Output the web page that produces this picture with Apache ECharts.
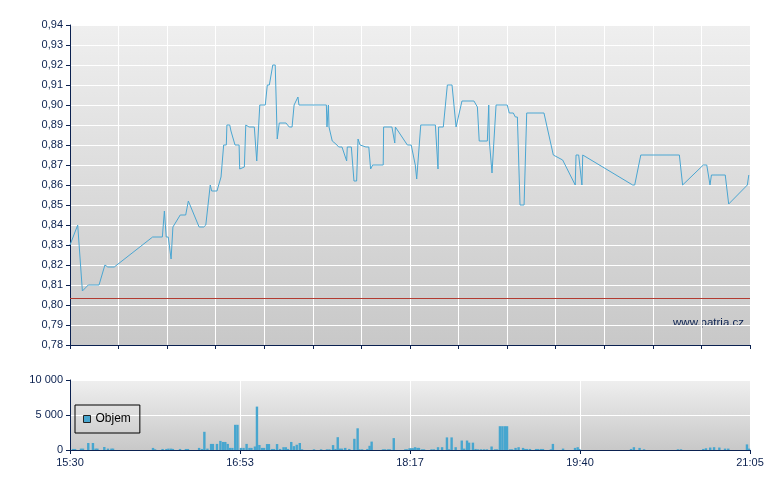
<!DOCTYPE html>
<html>
<head>
<meta charset="utf-8">
<script src="https://cdn.jsdelivr.net/npm/echarts@6/dist/echarts.min.js"></script>
<style>
html, body { margin: 0; padding: 0; background: #fff; }
#chart { width: 780px; height: 490px; }
</style>
</head>
<body>
<div id="chart"></div>
<script>
// minutes after 15:30
var priceMin = [0, 3.8, 6.1, 7.0, 9.0, 14.3, 17.2, 18.6, 21.8, 40.7, 45.5, 46.5, 47.1, 47.4, 48.4, 49.8, 50.7, 51.4, 54.3, 57.0,
  58.3, 63.6, 65.9, 66.9, 69.1, 69.8, 72.4, 74.4, 75.7, 77.0, 77.3, 78.7, 79.3, 80.0, 81.3, 83.3, 83.6, 84.2, 85.9, 86.6,
  87.5, 88.2, 90.8, 91.1, 92.0, 93.5, 96.2, 97.2, 98.2, 98.9, 99.9, 101.1, 102.1, 103.1, 106.4, 108.0, 109.4, 110.4, 112.3, 112.8,
  126.3, 126.6, 127.3, 127.6, 129.2, 131.0, 132.4, 134.0, 136.3, 136.6, 138.6, 139.9, 141.2, 141.9, 142.9, 145.8, 147.2, 148.1, 149.1, 154.3,
  154.5, 158.6, 160.0, 160.3, 166.2, 168.1, 170.1, 170.8, 171.4, 172.8, 180.0, 181.3, 181.6, 183.9, 185.9, 188.2, 190.2, 193.1, 199.0, 200.7,
  201.6, 205.6, 206.3, 206.6, 207.9, 209.9, 215.4, 216.4, 218.4, 219.4, 220.4, 221.7, 223.7, 225.0, 233.5, 238.1, 242.7, 248.9, 249.3, 250.6,
  252.2, 252.6, 277.2, 278.2, 281.2, 300.2, 301.8, 312.0, 313.7, 315.3, 316.0, 322.8, 324.5, 333.7, 334.4];
var priceVal = [0.830, 0.840, 0.807, 0.807, 0.810, 0.810, 0.820, 0.819, 0.819, 0.834, 0.834, 0.847, 0.847, 0.834, 0.834, 0.823, 0.839, 0.839, 0.845, 0.845,
  0.852, 0.839, 0.839, 0.840, 0.860, 0.857, 0.857, 0.864, 0.880, 0.880, 0.890, 0.890, 0.887, 0.887, 0.880, 0.880, 0.868, 0.869, 0.869, 0.890,
  0.890, 0.889, 0.889, 0.890, 0.872, 0.900, 0.900, 0.910, 0.910, 0.909, 0.920, 0.920, 0.883, 0.891, 0.891, 0.889, 0.889, 0.900, 0.904, 0.900,
  0.900, 0.889, 0.900, 0.889, 0.882, 0.8805, 0.879, 0.879, 0.872, 0.879, 0.879, 0.862, 0.862, 0.883, 0.880, 0.879, 0.879, 0.868, 0.870, 0.870,
  0.889, 0.889, 0.881, 0.889, 0.880, 0.880, 0.870, 0.863, 0.863, 0.890, 0.890, 0.868, 0.889, 0.889, 0.910, 0.910, 0.889, 0.902, 0.902, 0.899,
  0.882, 0.882, 0.900, 0.882, 0.866, 0.900, 0.900, 0.896, 0.896, 0.894, 0.894, 0.850, 0.850, 0.896, 0.896, 0.875, 0.8725, 0.860, 0.875, 0.875,
  0.860, 0.875, 0.860, 0.860, 0.875, 0.875, 0.860, 0.870, 0.870, 0.860, 0.865, 0.865, 0.8505, 0.860, 0.865];
var prevClose = 0.8033;

var volMin = [1.5, 2.5, 5.4, 6.4, 9.0, 11.3, 12.6, 13.5, 16.9, 18.7, 20.4, 21.2, 40.9, 41.9, 45.6, 47.5, 48.5, 49.8, 50.7, 54.2,
  57.1, 58.1, 63.6, 65.0, 66.2, 67.7, 69.5, 70.4, 72.4, 74.1, 75.4, 76.5, 77.7, 78.8, 80.0, 81.4, 82.5, 84.2, 85.5, 87.0,
  88.4, 89.4, 91.1, 92.1, 93.3, 94.6, 95.6, 97.1, 98.0, 99.5, 100.5, 102.0, 103.5, 105.2, 106.3, 107.4, 109.0, 110.3, 111.7, 113.2,
  114.3, 120.2, 123.7, 126.6, 127.8, 129.6, 130.8, 131.9, 133.0, 134.0, 135.6, 137.6, 140.1, 141.7, 142.6, 143.9, 146.5, 147.6, 148.6, 154.2,
  155.2, 156.7, 157.6, 159.5, 165.2, 166.0, 167.3, 168.2, 169.0, 170.0, 171.2, 171.9, 173.4, 174.4, 178.1, 179.3, 181.3, 183.3, 185.7, 186.7,
  188.0, 190.0, 193.0, 194.2, 195.6, 196.6, 198.5, 199.8, 201.0, 202.5, 204.0, 205.4, 207.7, 209.4, 210.4, 211.8, 213.0, 214.2, 215.3, 216.8,
  217.8, 219.5, 221.0, 223.2, 224.2, 225.1, 226.6, 229.6, 230.6, 232.0, 233.0, 236.9, 237.9, 242.9, 248.8, 250.1, 250.9, 276.4, 277.8, 280.6,
  282.8, 299.5, 301.0, 312.0, 313.3, 315.4, 317.3, 319.9, 322.7, 324.3, 333.5, 334.5];
var volVal = [150, 150, 200, 200, 1000, 1000, 200, 200, 430, 200, 200, 200, 300, 100, 150, 150, 200, 200, 150, 150,
  150, 150, 300, 150, 2600, 200, 870, 870, 870, 1300, 1150, 1150, 870, 300, 300, 3600, 3600, 300, 300, 870,
  300, 300, 500, 6200, 720, 300, 300, 850, 850, 150, 150, 850, 150, 400, 400, 150, 1150, 550, 750, 1000,
  100, 100, 100, 100, 100, 700, 150, 1830, 200, 200, 300, 150, 1600, 3100, 100, 100, 150, 600, 1200, 100,
  100, 100, 100, 1700, 100, 100, 250, 250, 250, 400, 300, 300, 100, 100, 100, 100, 400, 400, 1800, 100,
  1800, 400, 1350, 200, 1350, 1050, 1050, 150, 100, 100, 100, 100, 500, 100, 100, 3400, 3400, 3400, 3400, 100,
  100, 300, 400, 300, 150, 150, 150, 150, 150, 150, 150, 100, 870, 200, 300, 400, 150, 150, 400, 300,
  100, 100, 100, 150, 250, 350, 400, 350, 200, 200, 800, 200];

var timeLabels = ['15:30', '16:53', '18:17', '19:40', '21:05'];
var sessionLen = 335;

var navy = '#0b2150';
var font = 'Liberation Sans';
var bg = {
  type: 'linear', x: 0, y: 0, x2: 0, y2: 1,
  colorStops: [{ offset: 0, color: '#efefef' }, { offset: 1, color: '#c8c8c8' }]
};

var option = {
  animation: false,
  backgroundColor: '#fff',
  textStyle: { fontFamily: font },
  grid: [
    { left: 70, right: 30, top: 25, height: 320, show: true, borderWidth: 0, backgroundColor: bg },
    { left: 70, right: 30, top: 380, height: 70, show: true, borderWidth: 0, backgroundColor: bg }
  ],
  legend: {
    data: ['Objem'],
    left: 75,
    top: 405,
    orient: 'vertical',
    padding: [8, 9, 8, 8],
    borderColor: '#000',
    borderWidth: 1,
    borderRadius: 0,
    itemWidth: 7,
    itemHeight: 7,
    itemGap: 5,
    icon: 'rect',
    itemStyle: { borderColor: '#222', borderWidth: 1 },
    textStyle: { color: '#000', fontSize: 12, fontFamily: font }
  },
  xAxis: [
    {
      gridIndex: 0, type: 'value', min: 0, max: sessionLen, interval: sessionLen / 14,
      axisLine: { lineStyle: { color: navy, width: 1 } },
      axisTick: { show: true, length: 4, lineStyle: { color: navy } },
      axisLabel: { show: false },
      splitLine: { show: true, lineStyle: { color: '#fff', width: 1 } }
    },
    {
      gridIndex: 1, type: 'value', min: 0, max: sessionLen, interval: sessionLen / 4,
      axisLine: { lineStyle: { color: navy, width: 1 } },
      axisTick: { show: true, length: 4, lineStyle: { color: navy } },
      axisLabel: {
        color: navy, fontSize: 11, fontFamily: font, margin: 7,
        formatter: function (v) { return timeLabels[Math.round(v / (sessionLen / 4))]; }
      },
      splitLine: { show: true, lineStyle: { color: '#fff', width: 1 } }
    }
  ],
  yAxis: [
    {
      gridIndex: 0, type: 'value', min: 0.78, max: 0.94, interval: 0.01,
      axisLine: { show: true, lineStyle: { color: navy, width: 1 } },
      axisTick: { show: true, length: 4, lineStyle: { color: navy } },
      axisLabel: {
        color: navy, fontSize: 11, fontFamily: font, margin: 7,
        formatter: function (v) { return v.toFixed(2).replace('.', ','); }
      },
      splitLine: { show: true, lineStyle: { color: '#fff', width: 1 } }
    },
    {
      gridIndex: 1, type: 'value', min: 0, max: 10000, interval: 5000,
      axisLine: { show: true, lineStyle: { color: navy, width: 1 } },
      axisTick: { show: true, length: 4, lineStyle: { color: navy } },
      axisLabel: {
        color: navy, fontSize: 11, fontFamily: font, margin: 7,
        formatter: function (v) { return String(v).replace(/\B(?=(\d{3})+(?!\d))/g, ' '); }
      },
      splitLine: { show: true, lineStyle: { color: '#fff', width: 1 } }
    }
  ],
  graphic: [{
    type: 'text',
    right: 36,
    top: 317,
    style: { text: 'www.patria.cz', fill: navy, font: '11.5px "Liberation Sans"' }
  }],
  series: [
    {
      name: 'Cena',
      type: 'line',
      xAxisIndex: 0,
      yAxisIndex: 0,
      data: priceMin.map(function (m, i) { return [m, priceVal[i]]; }),
      showSymbol: false,
      lineStyle: { color: '#4aa6d2', width: 1 },
      itemStyle: { color: '#4aa6d2' },
      markLine: {
        silent: true,
        symbol: 'none',
        precision: 4,
        label: { show: false },
        lineStyle: { color: '#b23a30', type: 'solid', width: 1 },
        data: [{ yAxis: prevClose }]
      }
    },
    {
      name: 'Objem',
      type: 'bar',
      xAxisIndex: 1,
      yAxisIndex: 1,
      barWidth: 2.4,
      data: volMin.map(function (m, i) { return [m, volVal[i]]; }),
      itemStyle: { color: '#47a6cf' }
    }
  ]
};

var myChart = echarts.init(document.getElementById('chart'));
myChart.setOption(option);
</script>
</body>
</html>
